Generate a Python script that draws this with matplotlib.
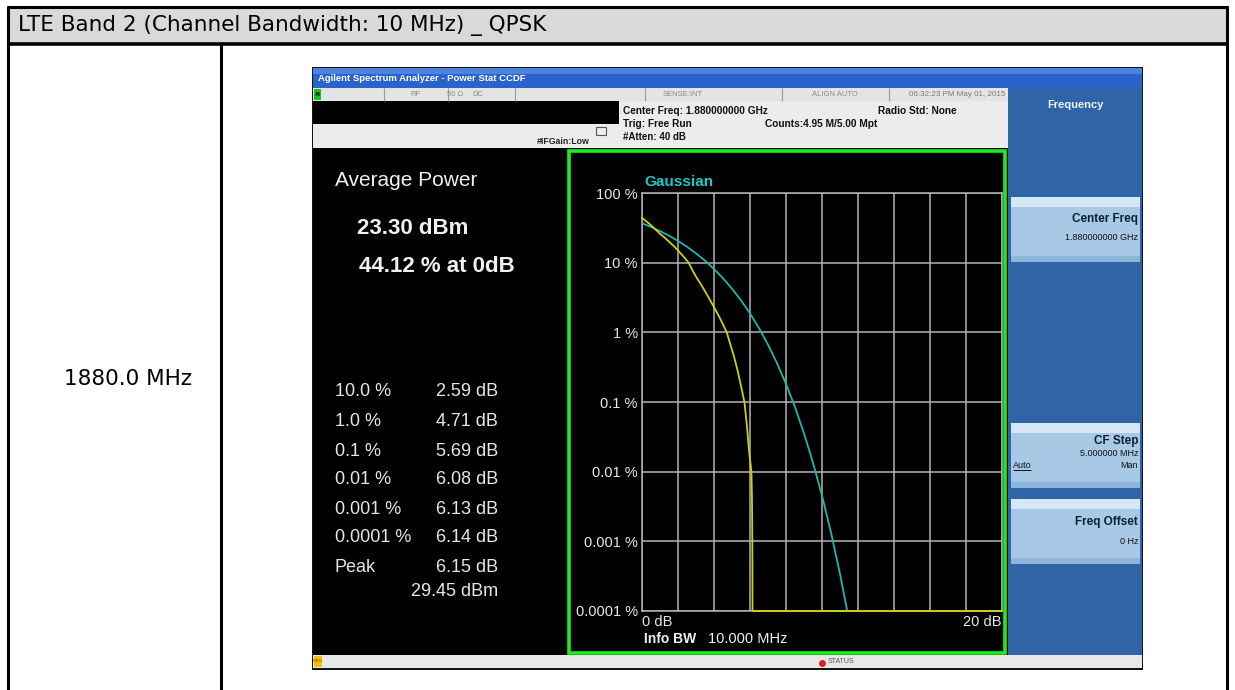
import matplotlib
matplotlib.use("Agg")
import matplotlib.pyplot as plt
from matplotlib.patches import Rectangle

# ---------------- data ----------------
header_title = "LTE Band 2 (Channel Bandwidth: 10 MHz) _ QPSK"
row_label = "1880.0 MHz"

avg_power = "23.30 dBm"
pct_at_0db = "44.12 % at 0dB"
stat_labels = ["10.0 %", "1.0 %", "0.1 %", "0.01 %", "0.001 %", "0.0001 %", "Peak"]
stat_values = ["2.59 dB", "4.71 dB", "5.69 dB", "6.08 dB", "6.13 dB", "6.14 dB", "6.15 dB"]
peak_dbm = "29.45 dBm"

y_ticks = [1e-4, 1e-3, 1e-2, 1e-1, 1, 10, 100]
y_tick_labels = ["0.0001 %", "0.001 %", "0.01 %", "0.1 %", "1 %", "10 %", "100 %"]
x_ticks = [0, 20]
x_tick_labels = ["0 dB", "20 dB"]

# measured CCDF (yellow)
meas_db = [0.0, 0.25, 0.5, 0.75, 1.0, 1.25, 1.5, 1.75, 2.0, 2.3, 2.59, 2.8, 3.0, 3.25,
           3.5, 3.75, 4.0, 4.25, 4.5, 4.71, 4.9, 5.1, 5.3, 5.5, 5.69, 5.78, 5.85,
           5.93, 6.0, 6.08, 6.11, 6.13, 6.14, 6.15, 20.0]
meas_pct = [44.12, 39.0, 34.5, 30.0, 26.0, 23.0, 20.0, 17.5, 15.0, 12.3, 10.0, 7.8, 6.3, 5.0,
            3.9, 3.0, 2.3, 1.75, 1.3, 1.0, 0.68, 0.46, 0.29, 0.17, 0.1, 0.06, 0.04,
            0.022, 0.015, 0.01, 0.004, 0.001, 0.0001, 0.0001, 0.0001]

# Gaussian reference (cyan)
gauss_db = [0.0, 0.5, 1.0, 1.5, 2.0, 2.5, 3.0, 3.5, 4.0, 4.5, 5.0, 5.5, 6.0, 6.5, 7.0,
            7.5, 8.0, 8.5, 9.0, 9.5, 10.0, 10.5, 11.0, 11.4]
gauss_pct = [36.8, 32.6, 28.4, 24.4, 20.5, 16.9, 13.6, 10.7, 8.11, 5.97, 4.23, 2.88, 1.87,
             1.15, 0.666, 0.361, 0.182, 0.0843, 0.0355, 0.01345, 0.00454, 0.00134,
             0.00034, 0.0001]

# ---------------- figure ----------------
W, H = 1235, 690
fig = plt.figure(figsize=(W / 100, H / 100), dpi=100)
bg = fig.add_axes([0, 0, 1, 1])
bg.set_xlim(0, W)
bg.set_ylim(H, 0)
bg.axis("off")

FT = "DejaVu Sans"
FS = "Liberation Sans"


def rect(x0, y0, x1, y1, fc, ec="none", lw=0, z=1):
    bg.add_patch(Rectangle((x0, y0), x1 - x0, y1 - y0, facecolor=fc,
                           edgecolor=ec, linewidth=lw, zorder=z))


def txt(x, y, s, size, color="black", ha="left", va="center", weight="normal", family=FS, z=6):
    return bg.text(x, y, s, fontsize=size, color=color, ha=ha, va=va,
                   fontweight=weight, family=family, zorder=z)


def line(xs, ys, color="black", lw=1, z=3):
    bg.plot(xs, ys, color=color, lw=lw, zorder=z, solid_capstyle="butt")


# table
rect(0, 0, W, H, "white", z=0)
rect(8, 7, 1227, 43, "#d9d9d9")
line([7, 1228], [7, 7], lw=2.2)
line([7, 1228], [43.5, 43.5], lw=2.6)
line([7.5, 7.5], [6, H], lw=2.2)
line([1227, 1227], [6, H], lw=2.2)
line([221, 221], [43, H], lw=2.2)
txt(18, 25, header_title, 15.5, family=FT)
txt(128, 379, row_label, 15.5, ha="center", family=FT)

# screenshot frame
rect(312, 67, 1143, 670, "#151515", z=1)
rect(313, 68, 1142, 88, "#2a63cc", z=2)
rect(313, 68, 1142, 74, "#4d84e0", z=2)
txt(318, 78.5, "Agilent Spectrum Analyzer - Power Stat CCDF", 6.8, color="white", weight="bold")

# status row
rect(313, 88, 1010, 101, "#e4e4e4", z=2)
for sx in [384, 448, 515, 645, 782, 889]:
    line([sx, sx], [88, 101], color="#9a9a9a", lw=0.8, z=3)
rect(314, 89, 321, 100, "#19c419", z=3)
txt(317.5, 94.5, "XI", 4.5, ha="center", weight="bold")
for sx, s in [(415, "RF"), (455, "50 \u03a9"), (478, "DC"), (683, "SENSE:INT"),
              (835, "ALIGN AUTO")]:
    txt(sx, 94.5, s, 5.5, color="#8a8a8a", ha="center")
txt(1005, 94.5, "06:32:23 PM May 01, 2015", 5.8, color="#777777", ha="right")

# info area
rect(313, 101, 619, 124, "black", z=2)
rect(313, 124, 619, 148, "#ececec", z=2)
rect(619, 101, 1010, 148, "#ececec", z=2)
txt(590, 141, "#IFGain:Low", 6.3, color="#222222", ha="right", weight="bold")
rect(596, 127, 606, 135, "none", ec="#555555", lw=0.8, z=3)
txt(623, 111, "Center Freq: 1.880000000 GHz", 7.3, color="#111111", weight="bold")
txt(623, 124, "Trig: Free Run", 7.3, color="#111111", weight="bold")
txt(623, 137, "#Atten: 40 dB", 7.0, color="#111111", weight="bold")
txt(765, 124, "Counts:4.95 M/5.00 Mpt", 7.3, color="#111111", weight="bold")
txt(878, 111, "Radio Std: None", 7.3, color="#111111", weight="bold")

# left results panel
rect(313, 148, 566, 655, "black", z=2)
txt(335, 181, "Average Power", 15, color="#f0f0f0")
txt(357, 228, avg_power, 16, color="#f0f0f0", weight="bold")
txt(359, 266, pct_at_0db, 16, color="#f0f0f0", weight="bold")
row_y = [392, 422, 451, 480, 509, 538, 568]
for yy, lab, val in zip(row_y, stat_labels, stat_values):
    txt(335, yy, lab, 13, color="#e6e6e6")
    txt(498, yy, val, 13, color="#e6e6e6", ha="right")
txt(498, 591, peak_dbm, 13, color="#e6e6e6", ha="right")

# plot panel
rect(566, 148, 1008, 655, "black", z=2)
rect(568.5, 151, 1005, 653, "none", ec="#19f019", lw=2.6, z=8)
txt(644, 182, "Gaussian", 11, color="#22c8c8", weight="bold")
txt(644, 639, "Info BW", 10, color="#f0f0f0", weight="bold")
txt(708, 639, "10.000 MHz", 10.5, color="#f0f0f0")

# softkey panel
rect(1008, 88, 1142, 655, "#2f64a6", z=2)
txt(1075, 105, "Frequency", 8, color="#eef4ff", ha="center", weight="bold")
for (y0, y1) in [(197, 262), (423, 488), (499, 564)]:
    rect(1011, y0, 1140, y1, "#a8c9e6", z=3)
    rect(1011, y0, 1140, y0 + 10, "#d6e7f5", z=3)
    rect(1011, y1 - 6, 1140, y1, "#8fb6da", z=3)
txt(1138, 219, "Center Freq", 8.5, color="#0b1f3c", ha="right", weight="bold")
txt(1138, 237, "1.880000000 GHz", 6.5, color="#111111", ha="right")
txt(1138, 441, "CF Step", 8.5, color="#0b1f3c", ha="right", weight="bold")
txt(1138, 453, "5.000000 MHz", 6.5, color="#111111", ha="right")
txt(1013, 465, "Auto", 6.5, color="#111111")
line([1013, 1031], [470, 470], color="#111111", lw=0.7, z=6)
txt(1138, 465, "Man", 6.5, color="#111111", ha="right")
txt(1138, 522, "Freq Offset", 8.5, color="#0b1f3c", ha="right", weight="bold")
txt(1138, 541, "0 Hz", 6.5, color="#111111", ha="right")

# bottom status bar
rect(313, 655, 1142, 668, "#e8e8e8", z=2)
rect(314, 656, 322, 667, "#f2c200", z=3)
txt(318, 661.5, "MSG", 3.2, color="#7a5a00", ha="center")
bg.plot([822], [663], marker="o", ms=4, color="#e02020", zorder=6)
txt(828, 661.5, "STATUS", 5, color="#555555")

# ---------------- CCDF chart ----------------
ax = fig.add_axes([642 / W, 1 - 611 / H, 360 / W, 418 / H])
ax.set_facecolor("black")
ax.set_yscale("log")
ax.set_xlim(0, 20)
ax.set_ylim(1e-4, 100)
ax.set_xticks(list(range(0, 21, 2)))
ax.set_yticks(y_ticks)
ax.yaxis.set_minor_locator(matplotlib.ticker.NullLocator())
ax.grid(True, color="#b4b4b4", lw=1.1)
ax.set_yticklabels(y_tick_labels, fontsize=10.5, color="#e8e8e8", family=FS)
ax.tick_params(axis="both", length=0)
ax.tick_params(axis="y", pad=3)
ax.set_xticklabels([""] * 11)
for sp in ax.spines.values():
    sp.set_color("#b4b4b4")
    sp.set_linewidth(1.1)

ax2 = ax.secondary_xaxis("bottom")
ax2.set_xticks(x_ticks)
ax2.set_xticklabels(x_tick_labels, fontsize=10.5, color="#e8e8e8", family=FS)
ax2.tick_params(length=0, pad=3)
ax2.spines["bottom"].set_visible(False)
lbls = ax2.get_xticklabels()
lbls[0].set_ha("left")
lbls[1].set_ha("right")

ax.plot(gauss_db, gauss_pct, color="#1fb6ae", lw=1.3, zorder=4)
ax.plot(meas_db, meas_pct, color="#cfcf10", lw=1.3, zorder=5, clip_on=False)

fig.savefig("out.png", dpi=100)
